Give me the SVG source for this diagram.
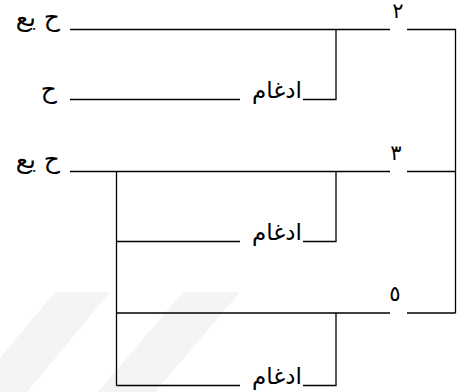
<svg xmlns="http://www.w3.org/2000/svg" width="463" height="392" viewBox="0 0 463 392">
<style>
.ln{stroke:#000;stroke-width:1.3;fill:none}
.t{font-family:"DejaVu Sans","Noto Sans",sans-serif;font-size:23px;fill:#000;text-anchor:end}
.n{font-size:25px}
.d{font-family:"DejaVu Sans","Noto Sans",sans-serif;font-size:21px;fill:#000;text-anchor:middle}
.wm{fill:#f4f4f4}
</style>
<rect width="463" height="392" fill="#fff"/>
<g id="watermark">
<polygon class="wm" points="55,292 110,292 27,392 0,392 0,358"/>
<polygon class="wm" points="183,292 240,292 155,392 98,392"/>
</g>
<g id="connectors">
<path class="ln" d="M70,29.5H390M407,29.5H455.5V313"/>
<path class="ln" d="M336,29.5V99.5H303M240,99.5H70"/>
<path class="ln" d="M70,171.5H390M407,171.5H455.5"/>
<path class="ln" d="M116.5,171.5V385.5"/>
<path class="ln" d="M336,171.5V241.5H303M240,241.5H116.5"/>
<path class="ln" d="M116.5,313H390M407,313H455.5"/>
<path class="ln" d="M336,313V385.5H303M240,385.5H116.5"/>
</g>
<g id="n1"><text class="t n" x="60" y="26">ح يع</text></g>
<g id="n2"><text class="t n" x="57" y="98">ح</text></g>
<g id="n3"><text class="t n" x="60" y="168">ح يع</text></g>
<g id="l1"><text class="t" x="302" y="98">ادغام</text></g>
<g id="l2"><text class="t" x="302" y="240">ادغام</text></g>
<g id="l3"><text class="t" x="302" y="384">ادغام</text></g>
<g id="d2"><text class="d" x="398" y="18">٢</text></g>
<g id="d3"><text class="d" x="396" y="160">٣</text></g>
<g id="d5"><text class="d" x="395" y="301">٥</text></g>
</svg>
